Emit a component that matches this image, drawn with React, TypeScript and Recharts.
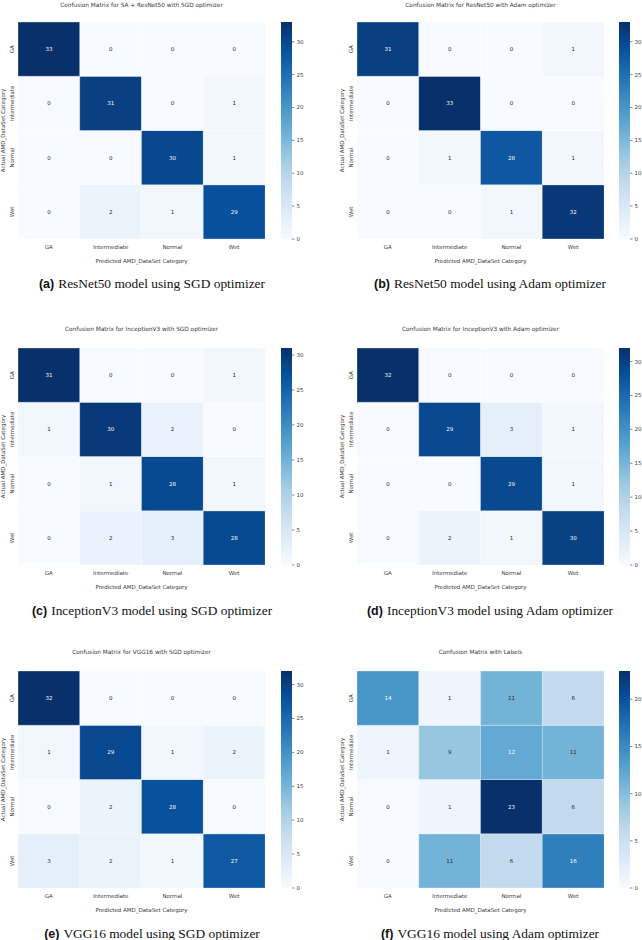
import { BarChart, Bar, XAxis, YAxis, Cell, LabelList } from 'recharts'

const CATEGORIES = ['GA', 'Intermediate', 'Normal', 'Wet']
const CBAR_TICKS = [0, 5, 10, 15, 20, 25, 30]

// rows = actual class, columns = predicted class
const RESNET50_SGD = [
  [33, 0, 0, 0],
  [0, 31, 0, 1],
  [0, 0, 30, 1],
  [0, 2, 1, 29],
]
const RESNET50_ADAM = [
  [31, 0, 0, 1],
  [0, 33, 0, 0],
  [0, 1, 28, 1],
  [0, 0, 1, 32],
]
const INCEPTION_SGD = [
  [31, 0, 0, 1],
  [1, 30, 2, 0],
  [0, 1, 28, 1],
  [0, 2, 3, 28],
]
const INCEPTION_ADAM = [
  [32, 0, 0, 0],
  [0, 29, 3, 1],
  [0, 0, 29, 1],
  [0, 2, 1, 30],
]
const VGG16_SGD = [
  [32, 0, 0, 0],
  [1, 29, 1, 2],
  [0, 2, 28, 0],
  [3, 2, 1, 27],
]
const VGG16_ADAM = [
  [14, 1, 11, 6],
  [1, 9, 12, 11],
  [0, 1, 23, 6],
  [0, 11, 6, 16],
]

const MATRICES = [RESNET50_SGD, RESNET50_ADAM, INCEPTION_SGD, INCEPTION_ADAM, VGG16_SGD, VGG16_ADAM]

const TITLES = [
  'Confusion Matrix for SA + ResNet50 with SGD optimizer',
  'Confusion Matrix for ResNet50 with Adam optimizer',
  'Confusion Matrix for InceptionV3 with SGD optimizer',
  'Confusion Matrix for InceptionV3 with Adam optimizer',
  'Confusion Matrix for VGG16 with SGD optimizer',
  'Confusion Matrix with Labels',
]
const CAPTION_TAGS = ['(a)', '(b)', '(c)', '(d)', '(e)', '(f)']
const CAPTIONS = [
  'ResNet50 model using SGD optimizer',
  'ResNet50 model using Adam optimizer',
  'InceptionV3 model using SGD optimizer',
  'InceptionV3 model using Adam optimizer',
  'VGG16 model using SGD optimizer',
  'VGG16 model using Adam optimizer',
]

// matplotlib "Blues"
const BLUES = ['#f7fbff', '#deebf7', '#c6dbef', '#9ecae1', '#6baed6', '#4292c6', '#2171b5', '#08519c', '#08306b']

// layout
const COL_LEFT = [0, 321]
const GRID_LEFT = [18, 357]
const CBAR_LEFT = [281, 619]
const ROW_TOP = [22, 348, 671]
const TITLE_Y = [5, 329, 652]
const CAPTION_Y = [283, 610, 933]
const CAPTION_X = [152, 490]
const GRID_W = 247
const GRID_H = 217
const X_AXIS_H = 30
const CBAR_PAD = 5

const FONT = '"DejaVu Sans", sans-serif'
const SMALL = 5.5
const TEXT = '#3a3a3a'

const hexToRgb = (h: string) => [1, 3, 5].map(i => parseInt(h.slice(i, i + 2), 16))

function blues(t: number) {
  const p = Math.max(0, Math.min(1, t)) * 8
  const i = Math.min(7, Math.floor(p))
  const f = p - i
  const a = hexToRgb(BLUES[i])
  const b = hexToRgb(BLUES[i + 1])
  const c = a.map((v, k) => Math.round(v + (b[k] - v) * f))
  return `rgb(${c[0]},${c[1]},${c[2]})`
}

// seaborn picks annotation colour from cell luminance
function annotColor(t: number) {
  const rgb = blues(t).match(/\d+/g)!.map(Number).map(v => {
    const s = v / 255
    return s <= 0.03928 ? s / 12.92 : Math.pow((s + 0.055) / 1.055, 2.4)
  })
  const lum = 0.2126 * rgb[0] + 0.7152 * rgb[1] + 0.0722 * rgb[2]
  return lum > 0.408 ? '#262626' : '#ffffff'
}

function Heatmap({ matrix, col }: { matrix: number[][]; col: number }) {
  const vmax = Math.max(...matrix.flat())
  const yW = GRID_LEFT[col] - COL_LEFT[col]
  const data = CATEGORIES.map((pred, c) => {
    const d: Record<string, string | number> = { pred }
    matrix.forEach((row, r) => {
      d[`r${r}`] = 1
      d[`v${r}`] = row[c]
    })
    return d
  })

  const XTick = (p: any) => (
    <text x={p.x} y={GRID_H + 8} textAnchor="middle" dominantBaseline="central"
      fontSize={SMALL} fontFamily={FONT} fill={TEXT}>
      {p.payload.value}
    </text>
  )
  const YTick = (p: any) => {
    const name = CATEGORIES[3 - Math.floor(p.payload.value)]
    const tx = yW - 6.5
    return (
      <text transform={`translate(${tx},${p.y}) rotate(-90)`} textAnchor="middle" dominantBaseline="central"
        fontSize={SMALL} fontFamily={FONT} fill={TEXT}>
        {name}
      </text>
    )
  }

  return (
    <BarChart width={yW + GRID_W} height={GRID_H + X_AXIS_H} data={data}
      margin={{ top: 0, right: 0, bottom: 0, left: 0 }} barCategoryGap={0} barGap={0}>
      <XAxis dataKey="pred" axisLine={false} tickLine={false} height={X_AXIS_H} interval={0} tick={XTick}
        label={{
          content: () => (
            <text x={yW + GRID_W / 2} y={GRID_H + 22} textAnchor="middle" dominantBaseline="central"
              fontSize={SMALL} fontFamily={FONT} fill={TEXT}>
              Predicted AMD_DataSet Category
            </text>
          ),
        }}
      />
      <YAxis type="number" domain={[0, 4]} ticks={[0.5, 1.5, 2.5, 3.5]} width={yW}
        axisLine={false} tickLine={false} tick={YTick}
        label={{
          content: () => (
            <text transform={`translate(${yW - 15},${GRID_H / 2}) rotate(-90)`} textAnchor="middle"
              dominantBaseline="central" fontSize={SMALL} fontFamily={FONT} fill={TEXT}>
              Actual AMD_DataSet Category
            </text>
          ),
        }}
      />
      {[3, 2, 1, 0].map(r => (
        <Bar key={r} dataKey={`r${r}`} stackId="m" isAnimationActive={false}>
          {CATEGORIES.map((_, c) => (
            <Cell key={c} fill={blues(matrix[r][c] / vmax)} stroke="#ffffff" strokeOpacity={0.5} strokeWidth={0.6} />
          ))}
          <LabelList dataKey={`v${r}`}
            content={(p: any) => (
              <text x={p.x + p.width / 2} y={p.y + p.height / 2} textAnchor="middle" dominantBaseline="central"
                fontSize={SMALL} fontFamily={FONT} fill={annotColor(Number(p.value) / vmax)}>
                {p.value}
              </text>
            )}
          />
        </Bar>
      ))}
    </BarChart>
  )
}

function ColorBar({ vmax, id }: { vmax: number; id: string }) {
  return (
    <BarChart width={41} height={GRID_H + 2 * CBAR_PAD} data={[{ name: 'cb', v: vmax }]}
      margin={{ top: CBAR_PAD, right: 0, bottom: CBAR_PAD, left: 0 }} barCategoryGap={0}>
      <defs>
        <linearGradient id={id} x1="0" y1="1" x2="0" y2="0">
          {BLUES.map((c, i) => <stop key={i} offset={i / 8} stopColor={c} />)}
        </linearGradient>
      </defs>
      <XAxis dataKey="name" hide />
      <YAxis orientation="right" type="number" domain={[0, vmax]} ticks={CBAR_TICKS.filter(t => t <= vmax)}
        width={30} axisLine={false} tickSize={2.5} tickMargin={2}
        tickLine={{ stroke: TEXT, strokeWidth: 0.6 }}
        tick={{ fontSize: SMALL, fontFamily: FONT, fill: TEXT }}
      />
      <Bar dataKey="v" fill={`url(#${id})`} isAnimationActive={false} />
    </BarChart>
  )
}

export default function App() {
  return (
    <div style={{ position: 'absolute', left: 0, top: 0, width: 642, height: 940, background: '#fff' }}>
      {MATRICES.map((m, i) => {
        const col = i % 2
        const row = Math.floor(i / 2)
        const vmax = Math.max(...m.flat())
        return (
          <div key={i}>
            <div style={{
              position: 'absolute', left: GRID_LEFT[col] - 40, width: GRID_W + 80, top: TITLE_Y[row] - 4,
              height: 8, lineHeight: '8px', textAlign: 'center', fontFamily: FONT, fontSize: 5.8, color: TEXT,
              whiteSpace: 'nowrap',
            }}>
              {TITLES[i]}
            </div>
            <div style={{ position: 'absolute', left: COL_LEFT[col], top: ROW_TOP[row] }}>
              <Heatmap matrix={m} col={col} />
            </div>
            <div style={{ position: 'absolute', left: CBAR_LEFT[col], top: ROW_TOP[row] - CBAR_PAD }}>
              <ColorBar vmax={vmax} id={`cb-grad-${i}`} />
            </div>
            <div style={{
              position: 'absolute', left: CAPTION_X[col] - 160, width: 320, top: CAPTION_Y[row] - 9,
              height: 18, lineHeight: '18px', textAlign: 'center', whiteSpace: 'nowrap', color: '#111',
            }}>
              <span style={{ fontFamily: '"Liberation Sans", Arial, sans-serif', fontWeight: 700, fontSize: 12.5 }}>
                {CAPTION_TAGS[i]}
              </span>{' '}
              <span style={{ fontFamily: '"Liberation Serif", "Times New Roman", serif', fontSize: 13.4 }}>
                {CAPTIONS[i]}
              </span>
            </div>
          </div>
        )
      })}
    </div>
  )
}
